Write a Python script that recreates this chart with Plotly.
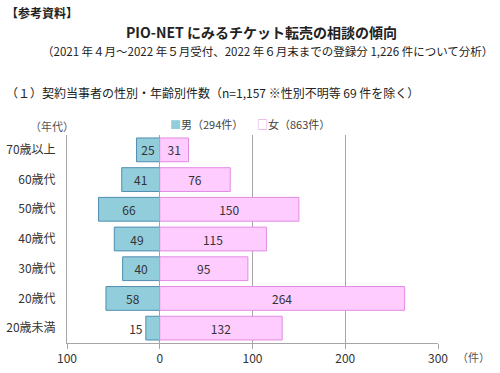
import plotly.graph_objects as go

age_groups = ["70歳以上", "60歳代", "50歳代", "40歳代", "30歳代", "20歳代", "20歳未満"]
male = [25, 41, 66, 49, 40, 58, 15]
female = [31, 76, 150, 115, 95, 264, 132]
male_name = "男（294件）"
female_name = "女（863件）"
x_tickvals = [-100, 0, 100, 200, 300]
x_ticktext = ["100", "0", "100", "200", "300"]

FONT = "Noto Sans CJK JP"
TXT = "#333333"
MALE_FILL, MALE_LINE = "#92CDDC", "#4F8DAF"
FEM_FILL, FEM_LINE = "#FFCCFF", "#E38BE3"

W, H = 500, 373
L, R, T, B = 67, 62, 135, 30
PW, PH = W - L - R, H - T - B


def px(x):
    return (x - L) / PW


def py(y):
    return (H - B - y) / PH


fig = go.Figure()
fig.add_trace(go.Bar(
    y=age_groups, x=[-v for v in male], orientation="h", name=male_name,
    marker=dict(color=MALE_FILL, line=dict(color=MALE_LINE, width=1)),
    text=[str(v) for v in male],
    textposition=["inside"] * 6 + ["outside"],
    insidetextanchor="middle",
    textfont=dict(family=FONT, size=12, color=TXT),
    outsidetextfont=dict(family=FONT, size=12, color=TXT),
    cliponaxis=False,
))
fig.add_trace(go.Bar(
    y=age_groups, x=female, orientation="h", name=female_name,
    marker=dict(color=FEM_FILL, line=dict(color=FEM_LINE, width=1)),
    text=[str(v) for v in female],
    textposition="inside",
    insidetextanchor="middle",
    textfont=dict(family=FONT, size=12, color=TXT),
))

fig.update_layout(
    width=W, height=H,
    margin=dict(l=L, r=R, t=T, b=B, autoexpand=False),
    paper_bgcolor="white", plot_bgcolor="white",
    barmode="relative", bargap=0.2,
    font=dict(family=FONT, size=12, color=TXT),
    showlegend=False,
    xaxis=dict(range=[-100, 300], tickvals=x_tickvals, ticktext=x_ticktext,
               automargin=False,
               showgrid=True, gridcolor="#A6A6A6", gridwidth=1,
               zeroline=True, zerolinecolor="#A6A6A6", zerolinewidth=1,
               showline=True, linecolor="#A6A6A6", linewidth=1,
               ticks="outside", ticklen=5, tickcolor="#A6A6A6",
               tickfont=dict(size=12, color=TXT), fixedrange=True),
    yaxis=dict(categoryorder="array", categoryarray=age_groups[::-1],
               automargin=False,
               showline=True, linecolor="#A6A6A6", linewidth=1,
               ticks="", ticklabelstandoff=8,
               tickfont=dict(size=12, color=TXT)),
)

annos = [
    dict(text="<b>【参考資料】</b>", x=px(4), y=py(12), xanchor="left", yanchor="middle", font=dict(size=12, color="#222")),
    dict(text="<b>PIO-NET にみるチケット転売の相談の傾向</b>", x=px(261), y=py(32), xanchor="center", yanchor="middle", font=dict(size=14, color="#222")),
    dict(text="（2021 年４月～2022 年５月受付、2022 年６月末までの登録分 1,226 件について分析）", x=px(267), y=py(51), xanchor="center", yanchor="middle", font=dict(size=11.5, color="#222")),
    dict(text="（１）契約当事者の性別・年齢別件数（n=1,157 ※性別不明等 69 件を除く）", x=px(4), y=py(92), xanchor="left", yanchor="middle", font=dict(size=12, color="#222")),
    dict(text="（年代）", x=px(28), y=py(126), xanchor="left", yanchor="middle", font=dict(size=11, color="#555")),
    dict(text="（件）", x=px(455), y=py(357), xanchor="left", yanchor="middle", font=dict(size=11, color="#555")),
    dict(text=f"<span style='color:{MALE_FILL}'>■</span>{male_name}", x=px(168), y=py(124), xanchor="left", yanchor="middle", font=dict(size=11, color="#444")),
    dict(text=f"<span style='color:{FEM_LINE}'>□</span>{female_name}", x=px(255), y=py(124), xanchor="left", yanchor="middle", font=dict(size=11, color="#444")),
]
for a in annos:
    fig.add_annotation(xref="paper", yref="paper", showarrow=False, **a)

fig.write_html("out.html", config={"displayModeBar": False},
               post_script="document.body.style.margin='0';")
